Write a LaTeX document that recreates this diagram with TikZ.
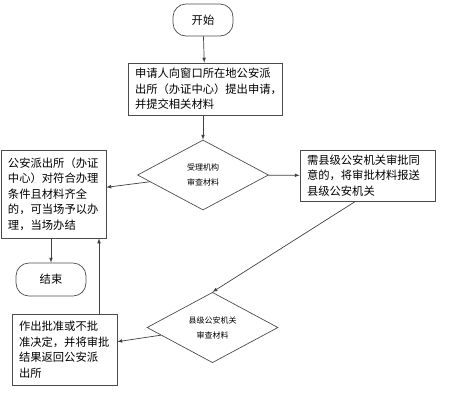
\documentclass[tikz,border=0pt]{standalone}
\usepackage{fontspec}
\usepackage{tikz}
\usetikzlibrary{shapes.geometric}
\newfontfamily\cjk{Noto Sans CJK SC}

\tikzset{
	box/.style={shape=rectangle, draw=black!70, line width=0.7pt, align=left, inner xsep=7pt, inner ysep=2pt, font=\cjk\fontsize{11.3}{15.5}\selectfont},
	term/.style={shape=rectangle, rounded corners=13pt, draw=black!70, line width=0.7pt, font=\cjk\fontsize{11.3}{14}\selectfont},
	check/.style={shape=diamond, draw=black!70, line width=0.7pt, inner sep=0pt, minimum width=131pt, minimum height=70pt, align=center, font=\cjk\fontsize{8}{15}\selectfont}
}

\begin{document}
\begin{tikzpicture}[x=1pt, y=-1pt, >=latex, line width=0.7pt, draw=black!75]
	\useasboundingbox (0,0) rectangle (452,400);

	\node[term, minimum width=60pt, minimum height=32pt] (1) at (203,20) {开始};
	\node[box, text width=140pt, minimum height=52pt] (2) at (205,89) {申请人向窗口所在地公安派\\出所（办证中心）提出申请，\\并提交相关材料};
	\node[check] (3) at (203,175) {受理机构\\审查材料};
	\node[box, text width=91pt, minimum height=88pt] (4) at (53.5,194) {公安派出所（办证\\中心）对符合办理\\条件且材料齐全\\的，可当场予以办\\理，当场办结};
	\node[box, text width=121pt, minimum height=51pt] (5) at (367.5,175.5) {需县级公安机关审批同\\意的，将审批材料报送\\县级公安机关};
	\node[term, minimum width=70pt, minimum height=33pt] (6) at (51,279.5) {结束};
	\node[check] (7) at (212.5,327.5) {县级公安机关\\审查材料};
	\node[box, text width=91pt, minimum height=71pt] (8) at (64.5,349.5) {作出批准或不批\\准决定，并将审批\\结果返回公安派\\出所};

	\path [->] (1) edge (2);
	\path [->] (2.south -| 3.north) edge (3);
	\path [->] (3) edge (4);
	\path [->] (3) edge (5);
	\path [->] ([xshift=-12pt]5.south) edge (7.north);
	\path [->] (4.south -| 6.north) edge (6);
	\path [->] (7) edge (8);
	\path [->] ([xshift=34.5pt]8.north) edge ([xshift=34.5pt]8.north |- 4.south);
\end{tikzpicture}
\end{document}
